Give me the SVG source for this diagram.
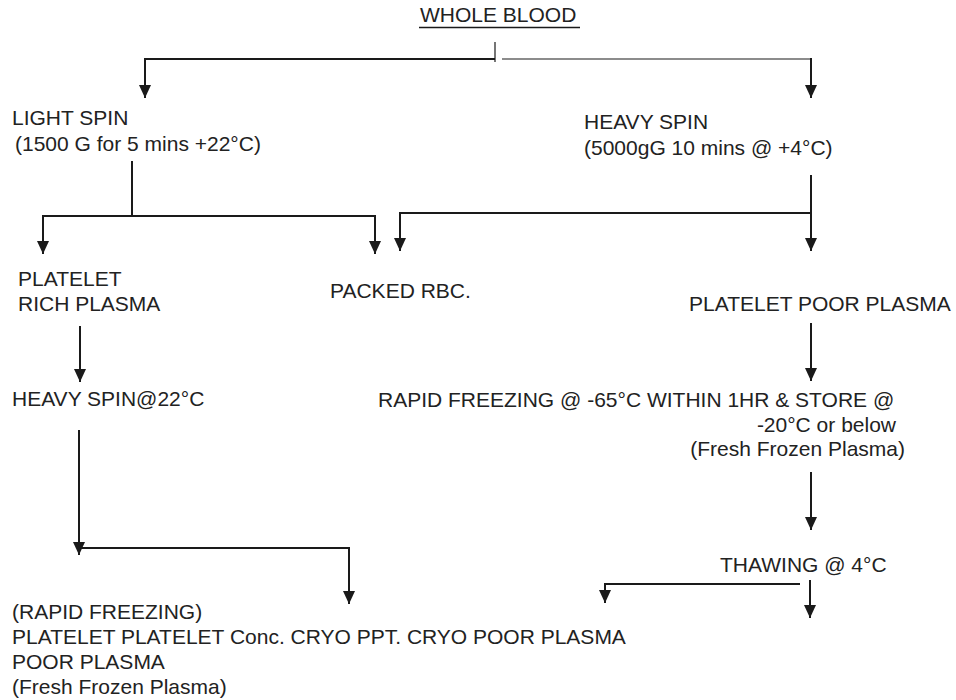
<svg xmlns="http://www.w3.org/2000/svg" width="956" height="700" viewBox="0 0 956 700">
<defs>
<marker id="ah" markerUnits="userSpaceOnUse" markerWidth="14" markerHeight="14" refX="13" refY="6" orient="auto">
<path d="M0,0 L13,6 L0,12 z" fill="#1a1a1a"/>
</marker>
<style>
text{font-family:"Liberation Sans",Arial,sans-serif;font-size:21px;fill:#222}
.c{stroke:#1a1a1a;stroke-width:2;fill:none}
.t{stroke:#1a1a1a;stroke-width:1.2;fill:none}
.a{marker-end:url(#ah)}
</style>
</defs>
<rect width="956" height="700" fill="#fff"/>
<g id="connectors">
<line class="t" x1="495" y1="42" x2="495" y2="62"/>
<line class="c" x1="144" y1="59" x2="495" y2="59"/>
<line class="t" x1="502" y1="59" x2="811" y2="59"/>
<line class="c a" x1="145" y1="58" x2="145" y2="98"/>
<line class="c a" x1="811" y1="58" x2="811" y2="98"/>
<line class="c" x1="132" y1="161" x2="132" y2="216"/>
<line class="c" x1="42" y1="216" x2="376" y2="216"/>
<line class="c a" x1="43" y1="215" x2="43" y2="254"/>
<line class="c a" x1="375" y1="215" x2="375" y2="254"/>
<line class="c" x1="811" y1="175" x2="811" y2="213"/>
<line class="c" x1="399" y1="213" x2="811" y2="213"/>
<line class="c a" x1="400" y1="212" x2="400" y2="251"/>
<line class="c a" x1="811" y1="212" x2="811" y2="251"/>
<line class="c a" x1="80" y1="326" x2="80" y2="382"/>
<line class="c a" x1="811" y1="323" x2="811" y2="381"/>
<line class="c a" x1="811" y1="472" x2="811" y2="530"/>
<line class="c a" x1="79" y1="430" x2="79" y2="555"/>
<line class="c" x1="79" y1="548" x2="350" y2="548"/>
<line class="c a" x1="349" y1="547" x2="349" y2="604"/>
<line class="c" x1="800" y1="584" x2="604" y2="584"/>
<line class="c a" x1="605" y1="583" x2="605" y2="603"/>
<line class="c a" x1="810" y1="580" x2="810" y2="618"/>
</g>
<g id="whole-blood"><text x="420" y="22">WHOLE BLOOD</text><line x1="419" y1="27.5" x2="580" y2="27.5" stroke="#1a1a1a" stroke-width="1.6"/></g>
<g id="light-spin"><text x="12" y="125">LIGHT SPIN</text><text x="15" y="151">(1500 G for 5 mins +22°C)</text></g>
<g id="heavy-spin"><text x="584" y="129">HEAVY SPIN</text><text x="584" y="155">(5000gG 10 mins @ +4°C)</text></g>
<g id="prp"><text x="18" y="286">PLATELET</text><text x="18" y="311">RICH PLASMA</text></g>
<g id="packed-rbc"><text x="330" y="298">PACKED RBC.</text></g>
<g id="ppp"><text x="689" y="311">PLATELET POOR PLASMA</text></g>
<g id="heavy-spin-22"><text x="12" y="406">HEAVY SPIN@22°C</text></g>
<g id="rapid-freezing"><text x="378" y="407">RAPID FREEZING @ -65°C WITHIN 1HR &amp; STORE @</text><text x="896" y="432" text-anchor="end">-20°C or below</text><text x="905" y="456" text-anchor="end">(Fresh Frozen Plasma)</text></g>
<g id="thawing"><text x="720" y="572">THAWING @ 4°C</text></g>
<g id="products"><text x="12" y="619">(RAPID FREEZING)</text><text x="12" y="644">PLATELET PLATELET Conc. CRYO PPT. CRYO POOR PLASMA</text><text x="12" y="669">POOR PLASMA</text><text x="12" y="694">(Fresh Frozen Plasma)</text></g>
</svg>
